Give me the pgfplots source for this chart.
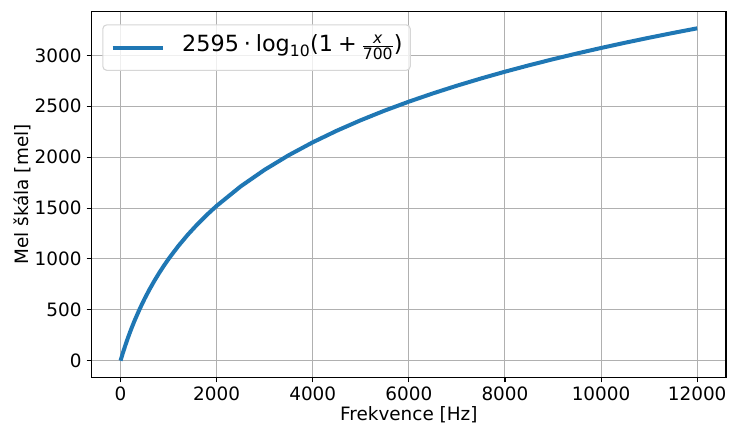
\documentclass[border=0pt]{standalone}
\usepackage{amsmath}
\usepackage{fontspec}
\setmainfont{DejaVu Sans}
\usepackage{pgfplots}
\pgfplotsset{compat=1.18}

\definecolor{mplblue}{RGB}{31,119,180}
\definecolor{gridgray}{RGB}{176,176,176}
\definecolor{legedge}{RGB}{214,214,214}

\newcommand{\tickfont}{\fontsize{18.4}{22}\selectfont}
\newcommand{\legfont}{\fontsize{22.3}{27}\selectfont}

\begin{document}
\begin{tikzpicture}
\useasboundingbox (-91.7pt,-51.7pt) rectangle (637.3pt,377.3pt);
\begin{axis}[
  at={(0pt,0pt)}, anchor=south west,
  scale only axis, width=634.3pt, height=365.6pt,
  xmin=-600, xmax=12600, ymin=-163.3, ymax=3429.7,
  xtick={0,2000,4000,6000,8000,10000,12000},
  ytick={0,500,1000,1500,2000,2500,3000},
  scaled ticks=false,
  /pgf/number format/1000 sep={},
  /pgf/number format/assume math mode=true,
  tick align=outside, tick pos=left,
  major tick length=5pt,
  every tick/.style={black, line width=1.1pt},
  axis line style={line width=1.1pt},
  grid=major, major grid style={gridgray, line width=1pt},
  ticklabel style={font=\tickfont, inner sep=0pt},
  xticklabel style={anchor=north, yshift=-4.4pt},
  yticklabel style={anchor=east, xshift=-5pt},
  xlabel={Frekvence [Hz]}, ylabel={Mel škála [mel]},
  label style={font=\tickfont, inner sep=0pt},
  xlabel style={at={(axis description cs:0.5,0)}, anchor=base, yshift=-43.4pt},
  ylabel style={at={(axis description cs:-0.09995,0.5)}, anchor=base, rotate=0},
  legend style={at={(axis description cs:0.0167,0.9655)}, anchor=north west,
    draw=legedge, line width=1.1pt, rounded corners=4pt, fill=white, fill opacity=0.8, text opacity=1,
    inner xsep=7.7pt, inner ysep=0pt, column sep=17pt,
    nodes={inner sep=0pt, text height=26.8pt, text depth=18.7pt, font=\legfont}},
  legend image code/.code={\draw[#1] (0pt,0pt) -- (50.7pt,0pt);},
]
\addplot[mplblue, line width=4pt] coordinates {
(0,0) (50,77.75) (100,150.49) (150,218.81) (200,283.23) (250,344.16)
(300,401.97) (400,509.39) (500,607.45) (600,697.65) (700,781.17)
(800,858.93) (900,931.66) (1000,999.99) (1200,1125.34) (1400,1238.13)
(1600,1340.65) (1800,1434.62) (2000,1521.36) (2500,1712.83) (3000,1876.46)
(3500,2019.30) (4000,2146.06) (4500,2259.99) (5000,2363.47) (5500,2458.23)
(6000,2545.64) (6500,2626.75) (7000,2702.41) (7500,2773.32) (8000,2840.02)
(8500,2903.00) (9000,2962.64) (9500,3019.28) (10000,3073.22) (10500,3124.69)
(11000,3173.92) (11500,3221.08) (12000,3266.34)
};
\addlegendentry{2595\hspace{0.22em}·\hspace{0.22em}log\textsubscript{10}(1\hspace{0.22em}+\hspace{0.22em}$\frac{\text{\itshape x}}{\text{700}}$)\hspace{4pt}}
\end{axis}
\end{tikzpicture}
\end{document}
